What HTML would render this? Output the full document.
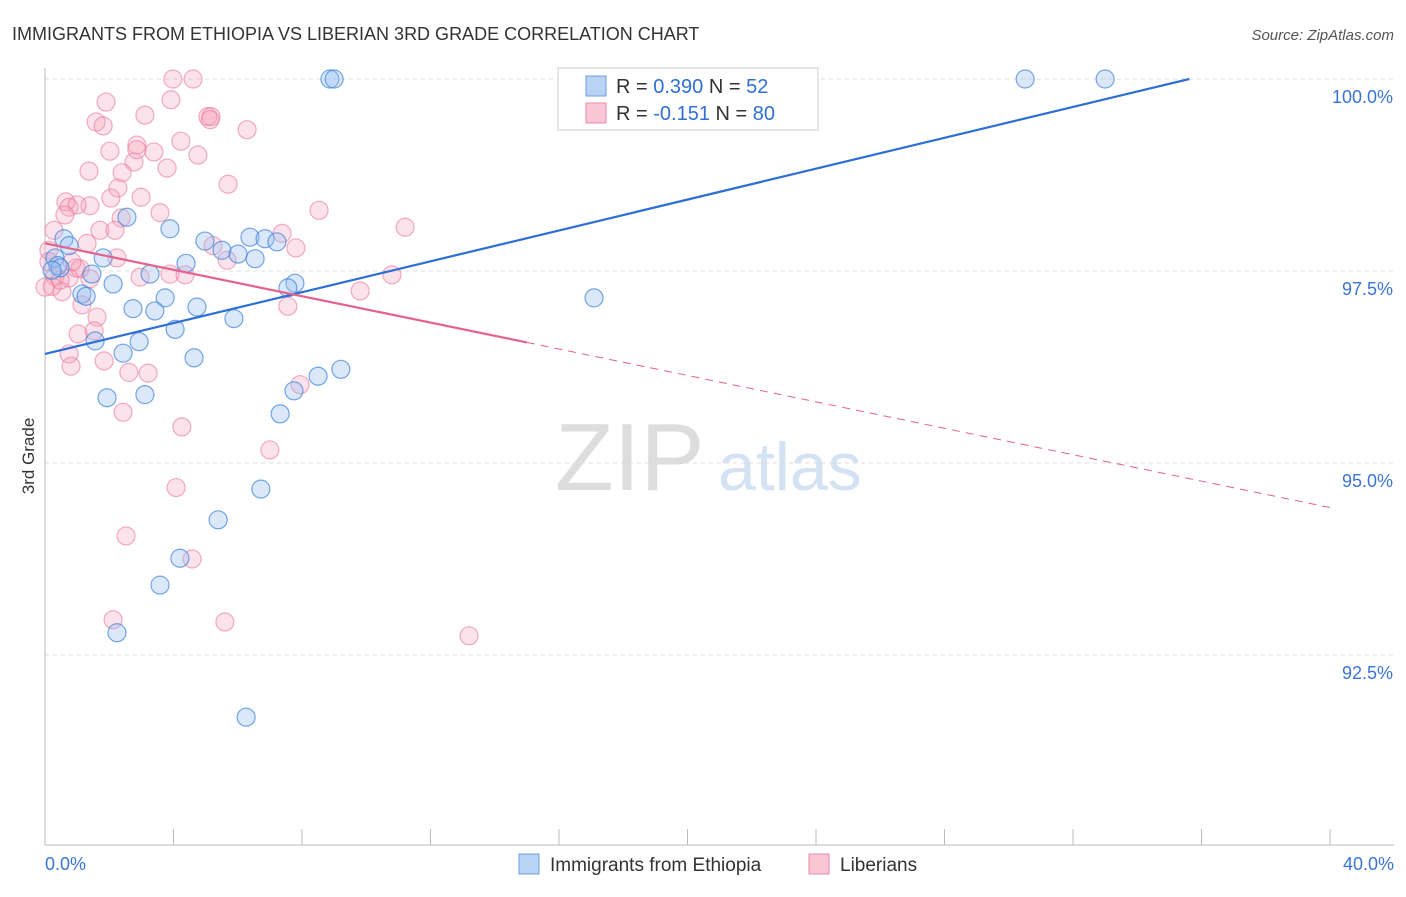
<!DOCTYPE html>
<html><head><meta charset="utf-8"><style>
body{margin:0;background:#fff;font-family:"Liberation Sans",sans-serif;}
svg text{font-family:"Liberation Sans",sans-serif;}
</style></head><body>
<svg id="c" width="1406" height="892">
<text x="12" y="40" font-size="18" fill="#333">IMMIGRANTS FROM ETHIOPIA VS LIBERIAN 3RD GRADE CORRELATION CHART</text>
<text x="1394" y="40" font-size="15" fill="#555" text-anchor="end" font-style="italic">Source: ZipAtlas.com</text>
<text x="555" y="490" font-size="96" fill="#ddd" font-family="Liberation Serif">ZIP</text>
<text x="718" y="490" font-size="68" fill="#d4e2f4">atlas</text>
<text x="34" y="456" font-size="17" fill="#333" text-anchor="middle" transform="rotate(-90 34 456)">3rd Grade</text>
<g id="grid"></g><g id="axes"></g><g id="pts"></g><g id="trend"></g>
<g>
<rect x="558" y="68" width="260" height="62" fill="#fff" stroke="#ccc"/>
<rect x="586" y="76" width="20" height="20" fill="#b9d3f5" stroke="#6a9fe0"/>
<text x="616" y="93" font-size="20" fill="#333">R = <tspan fill="#2f6fd6">0.390</tspan>   N = <tspan fill="#2f6fd6">52</tspan></text>
<rect x="586" y="103" width="20" height="20" fill="#f9c6d5" stroke="#ea8aa8"/>
<text x="616" y="120" font-size="20" fill="#333">R = <tspan fill="#2f6fd6">-0.151</tspan>   N = <tspan fill="#2f6fd6">80</tspan></text>
</g>
<g>
<rect x="519" y="854" width="20" height="20" fill="#b9d3f5" stroke="#6a9fe0"/>
<text x="550" y="871" font-size="19" fill="#333">Immigrants from Ethiopia</text>
<rect x="809" y="854" width="20" height="20" fill="#f9c6d5" stroke="#ea8aa8"/>
<text x="840" y="871" font-size="19" fill="#333">Liberians</text>
</g>
</svg>
<script>
const yTicks=[100,97.5,95,92.5];
const yTickLabels=["100.0%","97.5%","95.0%","92.5%"];
const xTicks=[0,4,8,12,16,20,24,28,32,36,40];
const xTickLabels=["0.0%","40.0%"];
const blueX=[8.87,9.00,23.35,30.51,33.0,2.55,3.89,4.98,6.38,6.85,7.22,5.51,6.01,6.54,0.59,0.75,0.31,0.40,1.81,4.39,3.27,1.46,0.47,0.22,7.78,7.56,2.12,1.15,1.28,3.74,4.73,2.74,3.42,5.88,4.05,1.56,2.93,2.43,4.64,9.21,8.50,7.75,1.93,3.11,7.32,17.09,6.72,5.39,4.20,3.58,2.24,6.26];
const blueY=[100,100,100,100,100,98.20,98.05,97.89,97.94,97.92,97.88,97.77,97.72,97.66,97.92,97.83,97.67,97.57,97.67,97.60,97.46,97.46,97.54,97.51,97.34,97.28,97.33,97.20,97.17,97.15,97.03,97.01,96.98,96.88,96.74,96.59,96.58,96.43,96.37,96.22,96.13,95.94,95.85,95.89,95.64,97.15,94.66,94.26,93.76,93.41,92.79,91.69];
const pinkX=[3.98,4.61,3.92,1.90,3.11,5.07,5.17,1.59,1.81,6.29,4.23,2.86,2.02,3.39,4.76,2.77,3.80,1.37,2.40,5.70,2.27,2.99,2.05,0.65,0.75,1.40,1.00,8.53,3.58,0.62,2.37,11.21,0.28,1.71,7.38,5.23,1.31,7.81,0.12,2.24,5.67,0.12,0.97,1.09,3.89,4.36,2.96,10.80,0.31,0.75,1.40,9.81,0.53,0.22,7.56,1.62,1.15,1.53,1.03,0.75,1.84,0.81,2.61,3.21,7.94,2.43,4.26,7.00,4.08,2.52,4.58,2.12,5.60,13.20,0.47,0.0,0.84,2.18,2.86,5.14];
const pinkY=[100,100,99.73,99.70,99.53,99.51,99.51,99.44,99.39,99.34,99.19,99.14,99.06,99.05,99.01,98.92,98.84,98.80,98.78,98.63,98.58,98.46,98.45,98.40,98.33,98.35,98.36,98.29,98.26,98.23,98.19,98.07,98.03,98.03,97.99,97.83,97.86,97.80,97.77,97.67,97.64,97.62,97.54,97.53,97.46,97.45,97.42,97.45,97.43,97.41,97.40,97.24,97.23,97.30,97.04,96.90,97.06,96.72,96.68,96.42,96.33,96.26,96.18,96.17,96.02,95.66,95.47,95.17,94.68,94.05,93.75,92.96,92.93,92.75,97.38,97.29,97.62,98.03,99.08,99.47];
const blueTrend=[96.42,0.1005];
const pinkTrend=[97.86,-0.086];
const NS='http://www.w3.org/2000/svg';
const xS=v=>45+v/40*1285;
const yS=v=>79+(100-v)*76.8;
function mk(tag,attrs,parent){const e=document.createElementNS(NS,tag);for(const k in attrs)e.setAttribute(k,attrs[k]);document.getElementById(parent).appendChild(e);return e;}
yTicks.forEach((t,i)=>{
 const l=mk('line',{x1:45,x2:1394,y1:yS(t),y2:yS(t),stroke:'#ddd','stroke-dasharray':'4,4'},'grid');
 
 
 const tx=mk('text',{x:1393,y:yS(t)+24,'font-size':18,fill:'#3a75d6','text-anchor':'end'},'grid');
 tx.textContent=yTickLabels[i];
 
 
});
const ya=mk('line',{x1:45,x2:45,y1:68,y2:845,stroke:'#bbb'},'axes');


const xa=mk('line',{x1:45,x2:1394,y1:845,y2:845,stroke:'#bbb'},'axes');


xTicks.forEach(t=>{
 const l=mk('line',{x1:xS(t),x2:xS(t),y1:829,y2:845,stroke:'#bbb'},'axes');
 
 
});
[[0,'start',45],[40,'end',1394]].forEach((d,i)=>{
 const tx=mk('text',{x:d[2],y:870,'font-size':18,fill:'#3a75d6','text-anchor':d[1]},'axes');
 tx.textContent=xTickLabels[i];
 
 
});
pinkX.forEach((x,i)=>{
 const c=mk('circle',{cx:xS(x),cy:yS(pinkY[i]),r:9,fill:'rgba(244,160,186,0.3)',stroke:'rgba(232,120,155,0.6)','stroke-width':1.2},'pts');
 
 
});
blueX.forEach((x,i)=>{
 const c=mk('circle',{cx:xS(x),cy:yS(blueY[i]),r:9,fill:'rgba(150,190,240,0.35)',stroke:'rgba(60,130,220,0.7)','stroke-width':1.2},'pts');
 
 
});
const bx2=(100-blueTrend[0])/blueTrend[1];
const bl=mk('line',{x1:xS(0),y1:yS(blueTrend[0]),x2:xS(bx2),y2:yS(100),stroke:'#2d6fd6','stroke-width':2.2},'trend');


const pl=mk('line',{x1:xS(0),y1:yS(pinkTrend[0]),x2:xS(15),y2:yS(pinkTrend[0]+15*pinkTrend[1]),stroke:'#e4638c','stroke-width':2.2},'trend');


const pd=mk('line',{x1:xS(15),y1:yS(pinkTrend[0]+15*pinkTrend[1]),x2:xS(40),y2:yS(pinkTrend[0]+40*pinkTrend[1]),stroke:'#e4638c','stroke-width':1,'stroke-dasharray':'8,6'},'trend');


</script>
</body></html>
